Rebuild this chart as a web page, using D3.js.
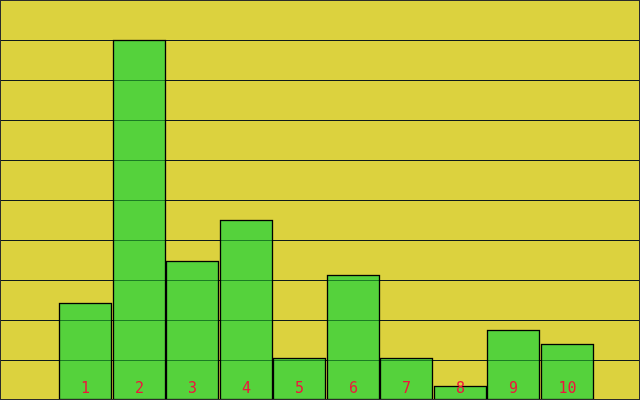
<!DOCTYPE html>
<html>
<head>
<meta charset="utf-8">
<script src="https://cdn.jsdelivr.net/npm/d3@7"></script>
<style>
  html, body { margin: 0; padding: 0; background: #dcd23e; }
  svg { display: block; }
</style>
</head>
<body>
<div id="chart"></div>
<script>
// data
const categories = ["1", "2", "3", "4", "5", "6", "7", "8", "9", "10"];
const values = [7, 26, 10, 13, 3, 9, 3, 1, 5, 4];
const gridTicks = [0, 1, 2, 3, 4, 5, 6, 7, 8, 9];

const width = 640;
const height = 400;

var svg = d3.select("#chart")
    .append("svg")
    .attr("width", width)
    .attr("height", height);

// background
svg.append("rect")
    .attr("x", 0).attr("y", 0)
    .attr("width", width).attr("height", height)
    .attr("fill", "#dcd23e");

// scales
var x = d3.scaleBand()
    .domain(categories)
    .range([59, 593])
    .paddingInner(0.03)
    .paddingOuter(0);

var y = d3.scaleLinear()
    .domain([0, 26])
    .range([399.5, 40]);

var grid = d3.scaleLinear()
    .domain([0, 10])
    .range([400, 0]);

// grid lines under the bars
svg.append("g")
    .selectAll("line")
    .data(gridTicks)
    .enter().append("line")
    .attr("x1", 0)
    .attr("x2", width)
    .attr("y1", d => Math.round(grid(d)) + 0.5)
    .attr("y2", d => Math.round(grid(d)) + 0.5)
    .attr("stroke", "#2b2b2b")
    .attr("stroke-width", 1);

// bars
svg.append("g")
    .selectAll("rect")
    .data(values)
    .enter().append("rect")
    .attr("x", (d, i) => Math.round(x(categories[i])) + 0.5)
    .attr("y", d => Math.round(y(d)) + 0.5)
    .attr("width", Math.round(x.bandwidth()))
    .attr("height", d => y(0) - Math.round(y(d)) - 0.5)
    .attr("fill", "#55d23c")
    .attr("stroke", "#000")
    .attr("stroke-width", 1.3);

// grid lines again on top, tinted over the bars
svg.append("g")
    .style("mix-blend-mode", "multiply")
    .selectAll("line")
    .data(gridTicks.slice(1))
    .enter().append("line")
    .attr("x1", 0)
    .attr("x2", width)
    .attr("y1", d => Math.round(grid(d)) + 0.5)
    .attr("y2", d => Math.round(grid(d)) + 0.5)
    .attr("stroke", "rgb(80,150,150)")
    .attr("stroke-width", 1);

// labels
svg.append("g")
    .selectAll("text")
    .data(categories)
    .enter().append("text")
    .attr("x", d => Math.round(x(d)) + Math.round(x.bandwidth()) / 2 + 0.5)
    .attr("y", 393)
    .attr("text-anchor", "middle")
    .attr("font-family", "'DejaVu Sans Mono', monospace")
    .attr("font-size", 15)
    .attr("fill", "#f0143c")
    .text(d => d);

// frame
svg.append("rect")
    .attr("x", 0.5).attr("y", 0.5)
    .attr("width", width - 1).attr("height", height - 1)
    .attr("fill", "none")
    .attr("stroke", "#2b2b2b")
    .attr("stroke-width", 1);
</script>
</body>
</html>
